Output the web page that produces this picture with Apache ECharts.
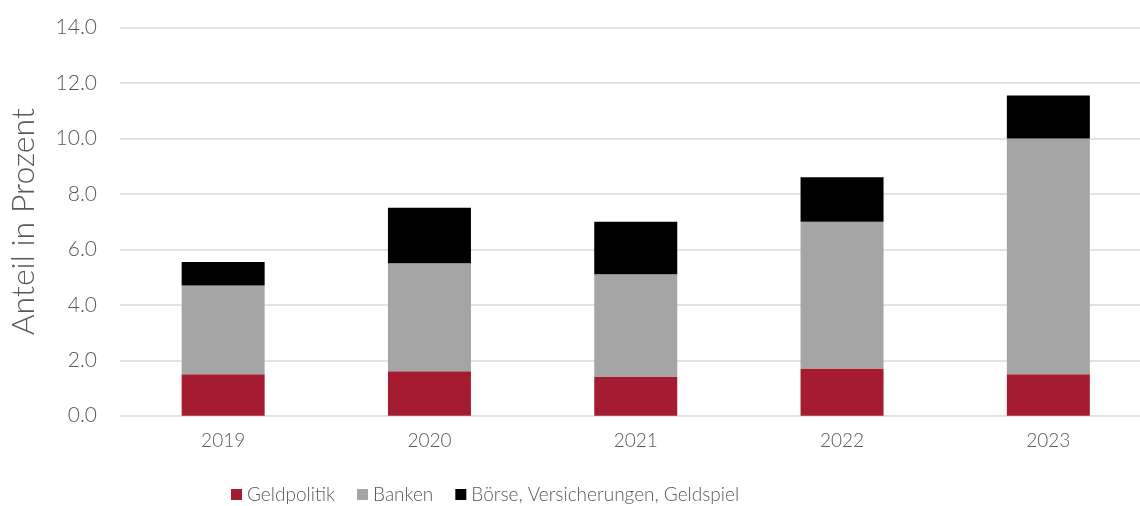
<!DOCTYPE html>
<html>
<head>
<meta charset="utf-8">
<script src="https://cdn.jsdelivr.net/npm/echarts@6/dist/echarts.min.js"></script>
<style>
  html, body { margin: 0; padding: 0; background: #fff; overflow: hidden; }
  #chart { width: 1152px; height: 506px; }
</style>
</head>
<body>
<div id="chart"></div>
<script>
const years = ['2019', '2020', '2021', '2022', '2023'];
const geldpolitik = [1.5, 1.6, 1.4, 1.7, 1.5];
const banken = [3.2, 3.9, 3.7, 5.3, 8.5];
const boerse = [0.85, 2.0, 1.9, 1.6, 1.55];
const yTicks = [0, 2, 4, 6, 8, 10, 12, 14];

const fontFamily = 'Lato, "Open Sans", sans-serif';
const textColor = '#595959';

// chart is a bit wider than the window, the plot runs past the right edge
const chart = echarts.init(document.getElementById('chart'));

function barSeries(name, data, color) {
  return {
    name: name,
    type: 'bar',
    stack: 'total',
    barWidth: 83,
    data: data,
    itemStyle: { color: color },
    emphasis: { disabled: true }
  };
}

const option = {
  animation: false,
  grid: { left: 116.5, right: 0.5, top: 27.7, bottom: 90.3, containLabel: false },
  legend: {
    left: 226,
    top: 480,
    itemWidth: 11,
    itemHeight: 11,
    itemGap: 22,
    icon: 'rect',
    textStyle: { fontFamily: fontFamily, fontSize: 19, color: textColor, fontWeight: 300 },
    data: ['Geldpolitik', 'Banken', 'Börse, Versicherungen, Geldspiel']
  },
  xAxis: {
    type: 'category',
    data: years,
    axisLine: { show: false },
    axisTick: { show: false },
    axisLabel: { fontFamily: fontFamily, fontSize: 19, color: textColor, fontWeight: 300, margin: 16 }
  },
  yAxis: {
    type: 'value',
    min: yTicks[0],
    max: yTicks[yTicks.length - 1],
    interval: 2,
    name: 'Anteil in Prozent',
    nameLocation: 'middle',
    nameGap: 80,
    nameTextStyle: { fontFamily: fontFamily, fontSize: 32, color: textColor, fontWeight: 300 },
    axisLine: { show: false },
    axisTick: { show: false },
    splitLine: { lineStyle: { color: '#d9d9d9', width: 1.5 } },
    axisLabel: {
      fontFamily: fontFamily,
      fontSize: 21,
      color: textColor,
      fontWeight: 300,
      margin: 23,
      formatter: v => v.toFixed(1)
    }
  },
  series: [
    barSeries('Geldpolitik', geldpolitik, '#a51c30'),
    barSeries('Banken', banken, '#a5a5a5'),
    barSeries('Börse, Versicherungen, Geldspiel', boerse, '#000000')
  ]
};

chart.setOption(option);
</script>
</body>
</html>
